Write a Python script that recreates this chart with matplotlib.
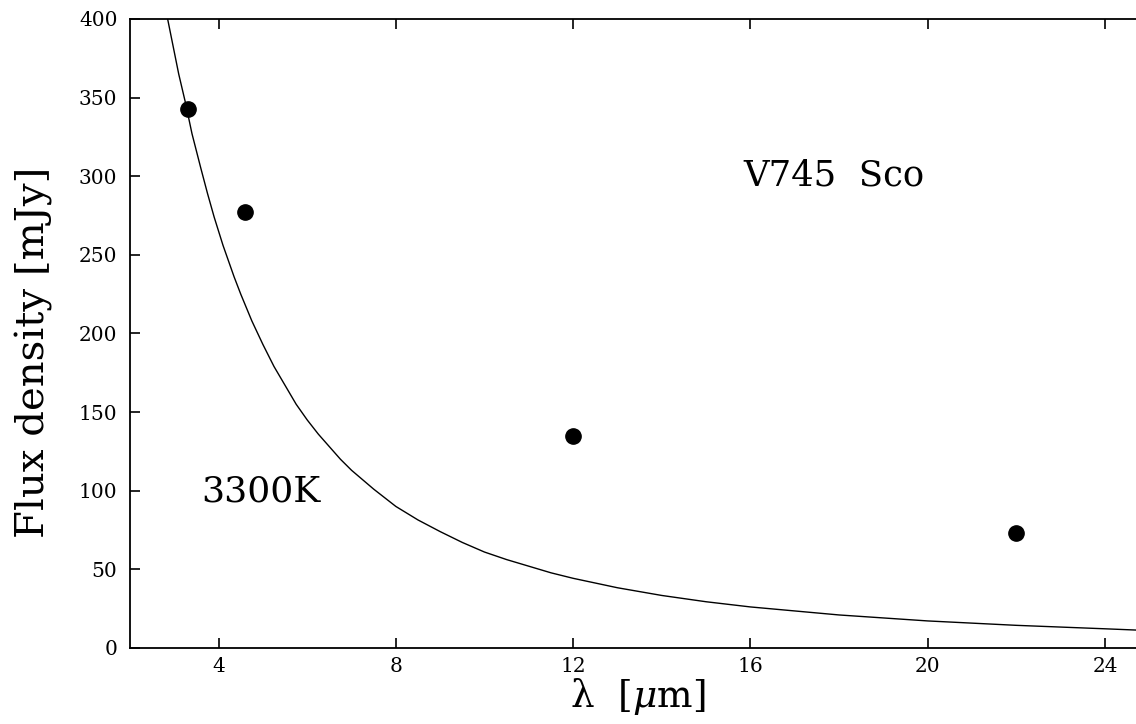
import matplotlib
matplotlib.use("Agg")
import matplotlib.pyplot as plt

# Photometry of V745 Sco
wavelength_um = [3.3, 4.6, 12.0, 22.0]
flux_mjy = [343, 277, 135, 73]

# 3300 K photosphere model
model_wavelength_um = [2.85, 3.0, 3.1, 3.25, 3.4, 3.5, 3.6, 3.75, 3.9, 4.0, 4.1,
                       4.25, 4.35, 4.5, 4.75, 5.0, 5.25, 5.5, 5.75, 6.0, 6.25,
                       6.5, 6.75, 7.0, 7.5, 8.0, 8.5, 9.0, 9.5, 10.0, 10.5,
                       11.0, 11.5, 12.0, 13.0, 14.0, 15.0, 16.0, 18.0, 20.0,
                       22.0, 24.0, 24.7]
model_flux_mjy = [400, 379, 365, 347, 327, 316, 305, 289, 274, 265, 256,
                  244, 236, 225, 208, 193, 179, 167, 155, 145, 136,
                  128, 120, 113, 101, 90, 81.4, 74, 67.1, 61, 56.2,
                  52, 47.8, 44.3, 38.3, 33.4, 29.4, 26.1, 21.0, 17.2,
                  14.4, 12.2, 11.4]

x_ticks = [4, 8, 12, 16, 20, 24]
y_ticks = [0, 50, 100, 150, 200, 250, 300, 350, 400]

plt.rcParams['font.family'] = 'DejaVu Serif'
plt.rcParams['mathtext.fontset'] = 'dejavuserif'


def plot_sed(save_path):
    fig = plt.figure(figsize=(11.36, 7.24), dpi=100)
    ax = fig.add_axes([0.1144, 0.105, 0.8856, 0.8688])

    ax.plot(model_wavelength_um, model_flux_mjy, color='black', linewidth=1.0)
    ax.plot(wavelength_um, flux_mjy, 'o', color='black', markersize=11)

    ax.set_xlim(2.0, 24.7)
    ax.set_ylim(0, 400)
    ax.set_xticks(x_ticks)
    ax.set_yticks(y_ticks)

    ax.spines['right'].set_visible(False)
    for side in ('left', 'top', 'bottom'):
        ax.spines[side].set_linewidth(1.3)

    ax.tick_params(axis='both', direction='in', length=7.5, width=1.2,
                   labelsize=14.5, top=True, right=False)
    ax.tick_params(axis='x', pad=6.5)
    ax.tick_params(axis='y', pad=9)

    ax.set_xlabel(r'λ  [$\mu$m]', fontsize=27)
    ax.xaxis.set_label_coords(0.505, -0.044)
    ax.set_ylabel('Flux density [mJy]', fontsize=29)
    ax.yaxis.set_label_coords(-0.0765, 0.47)

    ax.text(15.85, 293.8, 'V745  Sco', fontsize=25.5, ha='left', va='baseline')
    ax.text(3.61, 93, '3300K', fontsize=26, ha='left', va='baseline')

    fig.savefig(save_path, dpi=100)


if __name__ == "__main__":
    plot_sed('out.png')
